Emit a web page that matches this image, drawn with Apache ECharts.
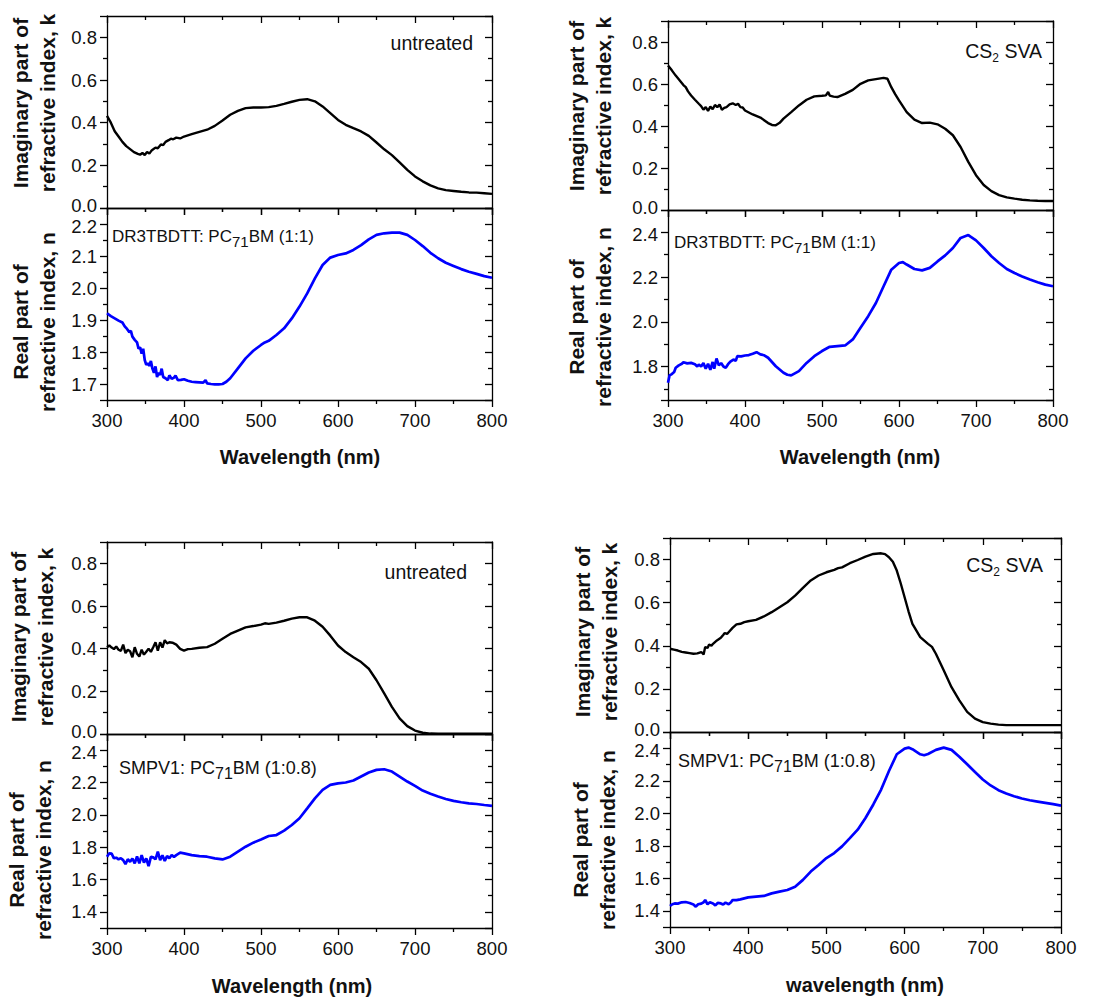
<!DOCTYPE html>
<html><head><meta charset="utf-8">
<script src="https://cdn.jsdelivr.net/npm/echarts@6/dist/echarts.min.js"></script>
<style>html,body{margin:0;padding:0;background:#fff}#c{width:1109px;height:997px}</style>
</head><body><div id="c"></div>
<script>
// ---------- DATA ----------
const wavelengthRange = [300, 800];
const wavelengthTicks = [300, 400, 500, 600, 700, 800];

// DR3TBDTT:PC71BM untreated
const kDR3Untreated = [[300,0.432],[305,0.40],[310,0.36],[315,0.335],[320,0.31],[325,0.29],[330,0.276],[335,0.262],[340,0.254],[343,0.25],[346,0.258],[349,0.248],[352,0.262],[355,0.255],[358,0.27],[360,0.275],[363,0.283],[366,0.28],[370,0.298],[373,0.295],[376,0.31],[380,0.318],[383,0.325],[386,0.322],[390,0.33],[395,0.326],[400,0.335],[410,0.346],[420,0.357],[430,0.367],[440,0.385],[450,0.41],[460,0.437],[470,0.455],[480,0.468],[490,0.471],[500,0.471],[510,0.473],[520,0.479],[530,0.488],[540,0.498],[550,0.507],[560,0.51],[570,0.5],[580,0.476],[590,0.445],[600,0.413],[610,0.39],[620,0.374],[630,0.359],[640,0.338],[650,0.307],[660,0.275],[670,0.248],[680,0.214],[690,0.179],[700,0.148],[710,0.125],[720,0.106],[730,0.092],[740,0.084],[750,0.08],[760,0.076],[770,0.073],[780,0.072],[790,0.069],[800,0.066]];
const nDR3Untreated = [[300,1.921],[305,1.912],[310,1.905],[315,1.898],[320,1.892],[323,1.880],[326,1.872],[329,1.862],[331,1.866],[333,1.848],[336,1.838],[339,1.83],[341,1.81],[343,1.815],[345,1.795],[347,1.81],[349,1.775],[351,1.76],[353,1.765],[355,1.757],[357,1.772],[359,1.748],[361,1.735],[363,1.755],[365,1.722],[367,1.735],[369,1.728],[371,1.748],[373,1.722],[376,1.718],[379,1.712],[381,1.727],[384,1.716],[387,1.72],[389,1.726],[392,1.712],[396,1.713],[400,1.715],[405,1.71],[410,1.707],[415,1.706],[420,1.705],[425,1.704],[428,1.712],[430,1.702],[435,1.700],[440,1.699],[445,1.699],[450,1.7],[455,1.707],[460,1.718],[470,1.749],[480,1.78],[490,1.804],[500,1.822],[505,1.83],[510,1.835],[520,1.853],[530,1.874],[540,1.905],[550,1.942],[560,1.983],[570,2.03],[580,2.072],[590,2.095],[600,2.103],[610,2.108],[620,2.119],[630,2.134],[640,2.152],[650,2.166],[660,2.171],[670,2.173],[680,2.173],[690,2.166],[700,2.15],[710,2.131],[720,2.11],[730,2.093],[740,2.079],[750,2.069],[760,2.059],[770,2.051],[780,2.044],[790,2.037],[800,2.032]];

// DR3TBDTT:PC71BM CS2 SVA
const kDR3SVA = [[300,0.688],[305,0.665],[310,0.64],[315,0.618],[320,0.595],[323,0.585],[326,0.565],[330,0.545],[335,0.525],[340,0.506],[343,0.495],[346,0.478],[349,0.49],[352,0.472],[355,0.492],[358,0.48],[361,0.5],[364,0.49],[367,0.502],[370,0.477],[373,0.486],[376,0.49],[380,0.503],[384,0.508],[388,0.5],[391,0.506],[394,0.49],[397,0.488],[400,0.474],[410,0.455],[420,0.44],[430,0.414],[435,0.405],[440,0.403],[445,0.415],[450,0.435],[460,0.466],[470,0.498],[480,0.525],[490,0.541],[500,0.544],[505,0.546],[508,0.562],[510,0.545],[515,0.54],[520,0.538],[530,0.553],[540,0.572],[550,0.601],[560,0.617],[570,0.623],[580,0.629],[585,0.625],[590,0.585],[595,0.552],[600,0.522],[610,0.466],[620,0.43],[630,0.414],[640,0.416],[650,0.408],[660,0.387],[670,0.356],[680,0.30],[690,0.229],[700,0.166],[710,0.119],[720,0.09],[730,0.071],[740,0.06],[750,0.054],[760,0.049],[770,0.046],[780,0.044],[790,0.043],[800,0.043]];
const nDR3SVA = [[300,1.727],[302,1.76],[305,1.766],[308,1.775],[310,1.794],[314,1.805],[318,1.812],[320,1.819],[325,1.814],[330,1.816],[335,1.81],[338,1.8],[340,1.809],[343,1.8],[346,1.815],[349,1.79],[352,1.812],[355,1.785],[358,1.82],[360,1.79],[363,1.836],[366,1.805],[369,1.815],[372,1.8],[375,1.794],[378,1.81],[381,1.822],[385,1.831],[388,1.825],[390,1.846],[395,1.845],[400,1.849],[405,1.851],[410,1.857],[415,1.864],[420,1.854],[425,1.85],[430,1.839],[440,1.801],[450,1.772],[455,1.763],[460,1.76],[470,1.779],[480,1.816],[490,1.846],[500,1.869],[510,1.888],[520,1.891],[530,1.894],[540,1.921],[550,1.973],[560,2.025],[570,2.084],[580,2.159],[590,2.233],[600,2.263],[605,2.267],[610,2.256],[620,2.236],[630,2.23],[640,2.241],[650,2.27],[660,2.297],[670,2.33],[680,2.375],[690,2.388],[700,2.364],[710,2.33],[720,2.293],[730,2.263],[740,2.236],[750,2.218],[760,2.203],[770,2.189],[780,2.177],[790,2.166],[800,2.159]];

// SMPV1:PC71BM untreated
const kSMPUntreated = [[300,0.407],[303,0.415],[306,0.405],[309,0.398],[312,0.41],[315,0.395],[318,0.39],[321,0.419],[324,0.379],[327,0.395],[330,0.388],[333,0.36],[336,0.407],[339,0.376],[342,0.363],[345,0.395],[348,0.372],[351,0.386],[354,0.4],[357,0.385],[360,0.407],[363,0.43],[366,0.39],[369,0.43],[372,0.405],[375,0.44],[378,0.425],[381,0.43],[385,0.428],[390,0.419],[395,0.399],[400,0.391],[405,0.398],[410,0.399],[420,0.404],[430,0.407],[440,0.423],[450,0.446],[460,0.469],[470,0.485],[480,0.5],[490,0.506],[500,0.513],[505,0.519],[510,0.516],[520,0.522],[530,0.531],[540,0.541],[550,0.547],[560,0.547],[570,0.531],[580,0.503],[590,0.461],[600,0.415],[610,0.384],[620,0.36],[630,0.337],[640,0.306],[650,0.252],[660,0.19],[670,0.127],[680,0.073],[690,0.037],[700,0.016],[710,0.006],[720,0.002],[730,0.001],[750,0.001],[800,0.001]];
const nSMPUntreated = [[300,1.741],[303,1.762],[306,1.76],[309,1.731],[312,1.735],[315,1.725],[318,1.732],[321,1.72],[324,1.695],[327,1.725],[330,1.71],[333,1.73],[336,1.7],[339,1.742],[342,1.7],[345,1.751],[348,1.705],[351,1.73],[354,1.683],[357,1.74],[360,1.737],[363,1.725],[366,1.772],[369,1.72],[372,1.75],[375,1.715],[378,1.745],[381,1.731],[384,1.752],[387,1.74],[390,1.751],[395,1.766],[400,1.762],[410,1.751],[420,1.745],[430,1.741],[440,1.731],[450,1.724],[460,1.741],[470,1.772],[480,1.803],[490,1.828],[500,1.848],[510,1.869],[520,1.875],[530,1.902],[540,1.937],[550,1.979],[560,2.04],[570,2.102],[580,2.154],[590,2.185],[600,2.195],[610,2.2],[620,2.212],[630,2.237],[640,2.262],[650,2.278],[660,2.282],[670,2.268],[680,2.237],[690,2.206],[700,2.179],[710,2.15],[720,2.13],[730,2.113],[740,2.098],[750,2.086],[760,2.078],[770,2.071],[780,2.067],[790,2.061],[800,2.055]];

// SMPV1:PC71BM CS2 SVA
const kSMPSVA = [[300,0.386],[305,0.382],[310,0.378],[315,0.372],[320,0.369],[325,0.366],[330,0.363],[335,0.365],[340,0.371],[343,0.36],[345,0.394],[348,0.39],[350,0.406],[353,0.4],[355,0.409],[360,0.425],[365,0.437],[368,0.45],[370,0.459],[373,0.455],[375,0.463],[380,0.483],[385,0.499],[390,0.502],[395,0.51],[400,0.514],[410,0.52],[420,0.536],[430,0.556],[440,0.579],[450,0.602],[460,0.633],[470,0.669],[480,0.703],[490,0.726],[500,0.741],[510,0.752],[515,0.76],[520,0.764],[530,0.783],[540,0.798],[550,0.814],[560,0.826],[570,0.829],[575,0.825],[580,0.811],[585,0.79],[590,0.749],[595,0.69],[600,0.625],[605,0.56],[610,0.502],[620,0.44],[630,0.409],[635,0.395],[640,0.363],[650,0.286],[660,0.208],[670,0.147],[680,0.093],[690,0.062],[700,0.046],[710,0.039],[720,0.034],[730,0.032],[800,0.032]];
const nSMPSVA = [[300,1.429],[303,1.44],[306,1.445],[310,1.444],[315,1.452],[320,1.454],[325,1.448],[330,1.439],[333,1.425],[336,1.44],[340,1.444],[343,1.452],[345,1.466],[348,1.44],[351,1.452],[355,1.445],[358,1.433],[361,1.448],[365,1.445],[368,1.438],[371,1.45],[375,1.44],[378,1.452],[380,1.466],[385,1.465],[390,1.47],[400,1.482],[410,1.487],[420,1.491],[430,1.507],[440,1.518],[450,1.528],[460,1.548],[470,1.59],[480,1.641],[490,1.682],[500,1.724],[510,1.755],[520,1.796],[530,1.847],[540,1.899],[550,1.971],[560,2.054],[570,2.146],[580,2.26],[590,2.363],[600,2.398],[605,2.404],[610,2.394],[620,2.363],[625,2.357],[630,2.365],[640,2.39],[650,2.404],[660,2.39],[670,2.348],[680,2.301],[690,2.254],[700,2.208],[710,2.171],[720,2.142],[730,2.122],[740,2.105],[750,2.091],[760,2.08],[770,2.072],[780,2.064],[790,2.056],[800,2.047]];

// axis ranges [min, max, major step]
const kRange = [0, 0.9, 0.2];
const nRanges = [[1.65, 2.25, 0.1], [1.65, 2.5, 0.2], [1.3, 2.5, 0.2], [1.3, 2.5, 0.2]];

// texts
const kTitle = 'Imaginary part of\nrefractive index, k';
const nTitle = 'Real part of\nrefractive index, n';
const xTitles = ['Wavelength (nm)', 'Wavelength (nm)', 'Wavelength (nm)', 'wavelength (nm)'];
const treatmentLabels = ['untreated', 'CS2 SVA', 'untreated', 'CS2 SVA'];
const blendLabels = ['DR3TBDTT: PC71BM (1:1)', 'DR3TBDTT: PC71BM (1:1)', 'SMPV1: PC71BM (1:0.8)', 'SMPV1: PC71BM (1:0.8)'];

const kSeries = [kDR3Untreated, kDR3SVA, kSMPUntreated, kSMPSVA];
const nSeries = [nDR3Untreated, nDR3SVA, nSMPUntreated, nSMPSVA];

// ---------- LAYOUT ----------
const FONT = "'Liberation Sans', Arial, Helvetica, sans-serif";
const panels = [
  {left:107, width:385, kTop:16,  kH:192, nH:192, kT:[34,103], nT:[34,322], xT:[300,457], tr:[473,43], bl:[112,236], blSize:17},
  {left:668, width:385, kTop:21,  kH:189, nH:190, kT:[590,106], nT:[590,317], xT:[860,457], tr:[1042,51], bl:[674,242], blSize:17},
  {left:107, width:385, kTop:542, kH:192, nH:194, kT:[32,637], nT:[30,850], xT:[292,986], tr:[467,572], bl:[119,768], blSize:18},
  {left:670, width:391, kTop:538, kH:194, nH:195, kT:[596,632], nT:[594,840], xT:[865,985], tr:[1043,565], bl:[678,761], blSize:18}
];
const TICK_FONT = 18.5;
const labelRich = {
  n:  {fontSize:TICK_FONT, fontFamily:FONT, color:'#111'},
  lo: {fontSize:TICK_FONT, fontFamily:FONT, color:'#111', padding:[0,0,5,0]},
  hi: {fontSize:TICK_FONT, fontFamily:FONT, color:'#111', padding:[5,0,0,0]}
};

// label formatter: only major multiples; nudge the labels that meet at a panel join
function fmt(range, isK) {
  const step = range[2];
  const topMajor = Math.floor(range[1] / step + 1e-9) * step;
  return function (v) {
    const r = Math.round(v / step);
    if (Math.abs(v - r * step) > 1e-6) return '';
    const s = v.toFixed(1);
    if (isK && Math.abs(v - range[0]) < 1e-9) return '{lo|' + s + '}';
    if (!isK && Math.abs(v - topMajor) < 1e-6) return '{hi|' + s + '}';
    return '{n|' + s + '}';
  };
}
const axisLine = {show:true, onZero:false, lineStyle:{color:'#000', width:1.3}};
const tickStyle = {color:'#000', width:1.3};

const grids = [], xAxes = [], yAxes = [], series = [], graphics = [];

panels.forEach(function (p, i) {
  const defs = [
    {top:p.kTop, h:p.kH, range:kRange, isK:true, data:kSeries[i], color:'#000000', width:2.4, showX:false},
    {top:p.kTop + p.kH, h:p.nH, range:nRanges[i], isK:false, data:nSeries[i], color:'#0000ff', width:2.7, showX:true}
  ];
  defs.forEach(function (d) {
    const g = grids.length;
    grids.push({left:p.left, top:d.top, width:p.width, height:d.h, containLabel:false});
    xAxes.push({type:'value', gridIndex:g, position:'bottom', min:wavelengthRange[0], max:wavelengthRange[1], interval:100,
      axisLine:axisLine, splitLine:{show:false},
      axisTick:{show:true, inside:false, length:7, lineStyle:tickStyle},
      minorTick:{show:true, splitNumber:2, length:4, lineStyle:tickStyle},
      axisLabel:{show:d.showX, margin:11, color:'#111', fontSize:TICK_FONT, fontFamily:FONT,
        formatter:function (v) { return wavelengthTicks.indexOf(v) >= 0 ? String(v) : ''; }}});
    xAxes.push({type:'value', gridIndex:g, position:'top', min:wavelengthRange[0], max:wavelengthRange[1], interval:100,
      axisLine:axisLine, splitLine:{show:false},
      axisTick:{show:true, inside:true, length:7, lineStyle:tickStyle},
      minorTick:{show:true, splitNumber:2, length:4, lineStyle:tickStyle},
      axisLabel:{show:false}});
    const r = d.range;
    const span = r[1] - r[0];
    const yBase = {type:'value', gridIndex:g, min:r[0], max:r[1], minInterval:r[2], maxInterval:r[2],
      splitNumber:Math.round(span / r[2]), axisLine:axisLine, splitLine:{show:false}};
    yAxes.push(Object.assign({}, yBase, {position:'left',
      axisTick:{show:true, inside:false, length:7, lineStyle:tickStyle},
      minorTick:{show:true, splitNumber:2, length:4, lineStyle:tickStyle},
      axisLabel:{show:true, margin:10, color:'#111', fontSize:TICK_FONT, fontFamily:FONT,
        formatter:fmt(r, d.isK), rich:labelRich}}));
    yAxes.push(Object.assign({}, yBase, {position:'right',
      axisTick:{show:true, inside:true, length:7, lineStyle:tickStyle},
      minorTick:{show:true, splitNumber:2, length:4, lineStyle:tickStyle},
      axisLabel:{show:false}}));
    series.push({type:'line', xAxisIndex:2 * g, yAxisIndex:2 * g, data:d.data, showSymbol:false, symbol:'none',
      lineStyle:{color:d.color, width:d.width}, itemStyle:{color:d.color}, animation:false, silent:true, clip:true});
  });

  [[kTitle, p.kT], [nTitle, p.nT]].forEach(function (t) {
    graphics.push({type:'text', x:t[1][0], y:t[1][1], rotation:Math.PI / 2,
      style:{text:t[0], font:'bold 21px ' + FONT, fill:'#111', align:'center', verticalAlign:'middle',
        textAlign:'center', textVerticalAlign:'middle', lineHeight:27}});
  });
  graphics.push({type:'text', x:p.xT[0], y:p.xT[1],
    style:{text:xTitles[i], font:'bold 20px ' + FONT, fill:'#111', align:'center', verticalAlign:'middle',
      textAlign:'center', textVerticalAlign:'middle'}});

  const tl = treatmentLabels[i];
  const trText = tl.indexOf('CS2') === 0 ? '{m|CS}{s|2}{m|' + tl.slice(3) + '}' : '{m|' + tl + '}';
  graphics.push({type:'text', x:p.tr[0], y:p.tr[1],
    style:{text:trText, align:'right', verticalAlign:'middle', textAlign:'right', textVerticalAlign:'middle', fill:'#111',
      rich:{m:{fontSize:19.5, fontFamily:FONT, lineHeight:26, fill:'#111', color:'#111'},
            s:{fontSize:12, fontFamily:FONT, lineHeight:8, verticalAlign:'bottom', fill:'#111', color:'#111'}}}});

  const bl = blendLabels[i];
  const idx = bl.indexOf('PC71BM');
  const blText = '{m|' + bl.slice(0, idx + 2) + '}{s|71}{m|' + bl.slice(idx + 4) + '}';
  graphics.push({type:'text', x:p.bl[0], y:p.bl[1],
    style:{text:blText, align:'left', verticalAlign:'middle', textAlign:'left', textVerticalAlign:'middle', fill:'#111',
      rich:{m:{fontSize:p.blSize, fontFamily:FONT, lineHeight:26, fill:'#111', color:'#111'},
            s:{fontSize:p.blSize - 2, fontFamily:FONT, lineHeight:6, verticalAlign:'bottom', fill:'#111', color:'#111'}}}});
});

const chart = echarts.init(document.getElementById('c'), null, {renderer:'svg'});
chart.setOption({
  animation:false,
  backgroundColor:'#ffffff',
  grid:grids, xAxis:xAxes, yAxis:yAxes, series:series, graphic:graphics
});
</script></body></html>
